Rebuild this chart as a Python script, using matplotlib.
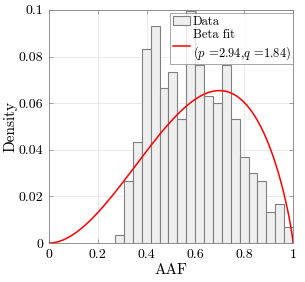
import math
import numpy as np
import matplotlib
matplotlib.use("Agg")
import matplotlib.pyplot as plt

plt.rcParams['font.family'] = 'serif'
plt.rcParams['font.serif'] = ['cmr10', 'DejaVu Serif']
plt.rcParams['mathtext.fontset'] = 'cm'
plt.rcParams['axes.formatter.use_mathtext'] = True

# Histogram data (probability-normalised, 20 bins from 0.27 to 1.0)
bin_lo = 0.27
bin_hi = 1.0
n_bins = 20
density = [0.0033, 0.0266, 0.0433, 0.0832, 0.0931, 0.0665, 0.0732, 0.0533,
           0.0997, 0.0764, 0.0629, 0.0599, 0.0764, 0.0533, 0.0367, 0.0301,
           0.0266, 0.0133, 0.0168, 0.0067]
p_fit = 2.94
q_fit = 1.84
curve_scale = 0.037

xticks = [0, 0.2, 0.4, 0.6, 0.8, 1]
xtick_labels = ['0', '0.2', '0.4', '0.6', '0.8', '1']
yticks = [0, 0.02, 0.04, 0.06, 0.08, 0.1]
ytick_labels = ['0', '0.02', '0.04', '0.06', '0.08', '0.1']

edges = np.linspace(bin_lo, bin_hi, n_bins + 1)
width = edges[1] - edges[0]

x = np.linspace(0, 1, 400)
logB = math.lgamma(p_fit) + math.lgamma(q_fit) - math.lgamma(p_fit + q_fit)
pdf = np.exp((p_fit - 1) * np.log(np.clip(x, 1e-12, 1)) + (q_fit - 1) * np.log(np.clip(1 - x, 1e-12, 1)) - logB)
pdf[0] = 0; pdf[-1] = 0
y = pdf * curve_scale

fig = plt.figure(figsize=(3.05, 2.82), dpi=100)
ax = fig.add_axes([0.161, 0.138, 0.8, 0.827])

bars = ax.bar(edges[:-1], density, width=width, align='edge', color='#efefef',
              edgecolor='#808080', linewidth=0.8, label='Data', zorder=2)
line, = ax.plot(x, y, color='#ff0000', linewidth=1.1,
                label='Beta fit\n($p$ =2.94,$q$ =1.84)', zorder=3)

ax.set_xlim(0, 1)
ax.set_ylim(0, 0.1)
ax.set_xticks(xticks)
ax.set_xticklabels(xtick_labels)
ax.set_yticks(yticks)
ax.set_yticklabels(ytick_labels)
ax.grid(True, color='#e6e6e6', linewidth=0.6, zorder=0)
ax.set_axisbelow(True)
ax.tick_params(direction='in', length=3, width=0.5, color='#808080',
               labelsize=10, top=True, right=True, pad=4)
for s in ax.spines.values():
    s.set_color('#808080')
    s.set_linewidth(0.6)
ax.set_xlabel('AAF', fontsize=11, labelpad=2)
ax.set_ylabel('Density', fontsize=11, labelpad=1)

leg = ax.legend([bars, line], ['Data', 'Beta fit\n($p$ =2.94,$q$ =1.84)'],
                loc='upper right', bbox_to_anchor=(1.0, 0.985), fontsize=9,
                frameon=True, fancybox=False, edgecolor='#808080',
                handlelength=1.4, handletextpad=0.2, borderpad=0.2,
                labelspacing=0.1, borderaxespad=0.0)
leg.get_frame().set_linewidth(0.6)

fig.savefig('out.png', dpi=100)
